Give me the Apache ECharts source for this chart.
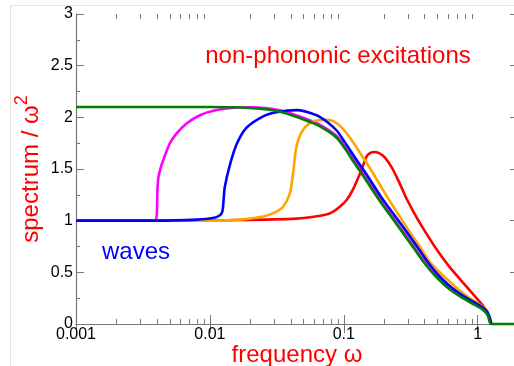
<!DOCTYPE html>
<html>
<head>
<meta charset="utf-8">
<script src="https://cdn.jsdelivr.net/npm/echarts@6/dist/echarts.min.js"></script>
<style>
  html, body { margin: 0; padding: 0; background: #fff; }
  #chart { width: 514px; height: 366px; }
</style>
</head>
<body>
<div id="chart"></div>
<script>
// tick positions / labels
const xTickValues = [0.001, 0.01, 0.1, 1]
const xTickLabels = ['0.001', '0.01', '0.1', '1']
const xMinorTicks = [
    0.002, 0.003, 0.004, 0.005, 0.006, 0.007, 0.008, 0.009,
    0.02, 0.03, 0.04, 0.05, 0.06, 0.07, 0.08, 0.09,
    0.2, 0.3, 0.4, 0.5, 0.6, 0.7, 0.8, 0.9
]

// curves: [frequency, spectrum / w^2]
const redData = [
    [0.001, 1.0], [0.005, 1.0], [0.0141, 1.005], [0.0443, 1.02], [0.065, 1.045],
    [0.0788, 1.07], [0.0934, 1.135], [0.105, 1.2], [0.117, 1.3], [0.1355, 1.49],
    [0.1477, 1.62], [0.1577, 1.655], [0.17, 1.665], [0.1954, 1.63], [0.2245, 1.53],
    [0.2573, 1.38], [0.2952, 1.21], [0.3505, 1.03], [0.4163, 0.87], [0.4943, 0.72],
    [0.618, 0.55], [0.828, 0.36], [1.09, 0.18], [1.188, 0.1], [1.24, 0.04], [1.265, 0]
]
const orangeData = [
    [0.001, 1.0], [0.01, 1.0], [0.0168, 1.01], [0.025, 1.04], [0.03055, 1.08],
    [0.03524, 1.135], [0.03954, 1.265], [0.04183, 1.46], [0.04436, 1.72], [0.04969, 1.88],
    [0.05902, 1.96], [0.0734, 1.975], [0.08277, 1.965], [0.0966, 1.9], [0.1128, 1.79],
    [0.1317, 1.66], [0.1563, 1.51], [0.1856, 1.35], [0.2205, 1.19], [0.2618, 1.04],
    [0.3108, 0.89], [0.3692, 0.75], [0.446, 0.59], [0.618, 0.41], [0.828, 0.27],
    [1.167, 0.135], [1.23, 0.06], [1.265, 0]
]
const magentaData = [
    [0.001, 1.0], [0.0037, 1.0], [0.003954, 1.01], [0.004023, 1.1], [0.004058, 1.3],
    [0.004128, 1.42], [0.004309, 1.52], [0.004616, 1.63], [0.00503, 1.75], [0.005643, 1.845],
    [0.0067, 1.94], [0.00842, 2.02], [0.01122, 2.07], [0.01585, 2.095], [0.0199, 2.097],
    [0.0333, 2.068], [0.0588, 1.96], [0.0721, 1.9], [0.0887, 1.817], [0.1017, 1.72],
    [0.1168, 1.6], [0.1435, 1.43], [0.1794, 1.24], [0.2529, 0.965], [0.3388, 0.735],
    [0.4023, 0.6], [0.4776, 0.485], [0.5672, 0.39], [0.6736, 0.313], [0.7998, 0.25],
    [0.9497, 0.195], [1.09, 0.14], [1.188, 0.088], [1.265, 0]
]
const blueData = [
    [0.001, 1.0], [0.004, 1.0], [0.008, 1.01], [0.0105, 1.025], [0.0118, 1.05],
    [0.0124, 1.09], [0.01265, 1.2], [0.01294, 1.33], [0.01411, 1.54], [0.01583, 1.74],
    [0.01879, 1.9], [0.025, 2.01], [0.03146, 2.05], [0.0443, 2.07], [0.0626, 2.02],
    [0.076, 1.95], [0.0887, 1.87], [0.1017, 1.76], [0.1229, 1.6], [0.151, 1.43],
    [0.1888, 1.235], [0.2663, 0.97], [0.3566, 0.74], [0.4235, 0.6], [0.503, 0.48],
    [0.5973, 0.385], [0.7091, 0.31], [0.842, 0.245], [1.0, 0.19], [1.128, 0.145],
    [1.208, 0.09], [1.265, 0]
]
const greenData = [
    [0.001, 2.1], [0.01, 2.1], [0.0199, 2.09], [0.0333, 2.055], [0.0588, 1.945],
    [0.0721, 1.885], [0.0887, 1.8], [0.1017, 1.7], [0.1168, 1.58], [0.1435, 1.41],
    [0.1794, 1.22], [0.2529, 0.95], [0.3388, 0.72], [0.4023, 0.585], [0.4776, 0.47],
    [0.5672, 0.375], [0.6736, 0.3], [0.7998, 0.24], [0.9497, 0.185], [1.09, 0.14],
    [1.188, 0.085], [1.265, 0], [2, 0]
]

const axisGray = '#777'
const font = 'Liberation Sans'

const chart = echarts.init(document.getElementById('chart'))

const lineSeries = (name, data, color) => ({
    name,
    type: 'line',
    data,
    showSymbol: false,
    smooth: 0.3,
    clip: false,
    lineStyle: { color, width: 2.6 },
    itemStyle: { color },
    z: 3
})

const tickLabel = v => {
    const i = xTickValues.findIndex(t => Math.abs(Math.log10(t) - Math.log10(v)) < 1e-6)
    return i >= 0 ? xTickLabels[i] : ''
}

const xBase = {
    type: 'log',
    logBase: 10,
    min: 0.001,
    max: 2,
    nameMoveOverlap: false,
    axisLine: { lineStyle: { color: axisGray, width: 1.2 } },
    axisTick: { inside: true, length: 9, lineStyle: { color: axisGray } },
    splitLine: { show: false }
}
const yBase = {
    type: 'value',
    min: 0,
    max: 3,
    interval: 0.5,
    nameMoveOverlap: false,
    axisLine: { show: true, lineStyle: { color: axisGray, width: 1.2 } },
    axisTick: { inside: true, length: 8, lineStyle: { color: axisGray } },
    minorTick: { show: true, splitNumber: 2, length: 4, lineStyle: { color: axisGray } },
    splitLine: { show: false },
    minorSplitLine: { show: false }
}

const option = {
    animation: false,
    backgroundColor: '#fff',
    textStyle: { fontFamily: font },
    grid: { left: 76, top: 14, width: 442, height: 310, containLabel: false, outerBoundsMode: 'none' },
    xAxis: [
        {
            ...xBase,
            position: 'bottom',
            axisLabel: { fontSize: 16, color: '#000', margin: 3, formatter: tickLabel },
            name: 'frequency ω',
            nameLocation: 'middle',
            nameGap: 19,
            nameTextStyle: { color: '#f00', fontSize: 24, fontFamily: font }
        },
        { ...xBase, position: 'top', axisLabel: { show: false } }
    ],
    yAxis: [
        {
            ...yBase,
            position: 'left',
            axisLabel: { fontSize: 16, color: '#000', margin: 3 },
            name: 'spectrum / ω{sup|2}',
            nameLocation: 'middle',
            nameRotate: 90,
            nameGap: 27,
            nameTextStyle: {
                color: '#f00',
                fontSize: 24,
                fontFamily: font,
                rich: { sup: { color: '#f00', fontSize: 18, fontFamily: font, padding: [0, 0, 18, 0] } }
            }
        },
        { ...yBase, position: 'right', axisLabel: { show: false } }
    ],
    graphic: [
        {
            type: 'rect',
            shape: { x: 10.5, y: 5.5, width: 600, height: 400 },
            style: { fill: 'none', stroke: '#e4e4e4', lineWidth: 1 },
            silent: true,
            z: -10
        },
        {
            type: 'text',
            x: 338,
            y: 56,
            style: {
                text: 'non-phononic excitations',
                fill: '#f00',
                font: '24px "Liberation Sans"',
                textAlign: 'center',
                textVerticalAlign: 'middle',
                align: 'center',
                verticalAlign: 'middle'
            }
        },
        {
            type: 'text',
            x: 136,
            y: 252,
            style: {
                text: 'waves',
                fill: '#00f',
                font: '24px "Liberation Sans"',
                textAlign: 'center',
                textVerticalAlign: 'middle',
                align: 'center',
                verticalAlign: 'middle'
            }
        }
    ],
    series: [
        {
            // minor log ticks on the bottom and top frame
            type: 'custom',
            data: xMinorTicks.map(v => [v, 0]),
            silent: true,
            clip: false,
            z: 4,
            renderItem: (params, api) => {
                const b = api.coord([api.value(0), 0])
                const t = api.coord([api.value(0), 3])
                const x = Math.round(b[0]) + 0.5
                const st = { stroke: axisGray, lineWidth: 1 }
                return {
                    type: 'group',
                    children: [
                        { type: 'line', shape: { x1: x, y1: b[1], x2: x, y2: b[1] - 5 }, style: st },
                        { type: 'line', shape: { x1: x, y1: t[1], x2: x, y2: t[1] + 5 }, style: st }
                    ]
                }
            }
        },
        lineSeries('magenta', magentaData, '#ff00ff'),
        lineSeries('red', redData, '#ff0000'),
        lineSeries('orange', orangeData, '#ffa500'),
        lineSeries('blue', blueData, '#0000ff'),
        lineSeries('green', greenData, '#008000')
    ]
}

chart.setOption(option)
</script>
</body>
</html>
